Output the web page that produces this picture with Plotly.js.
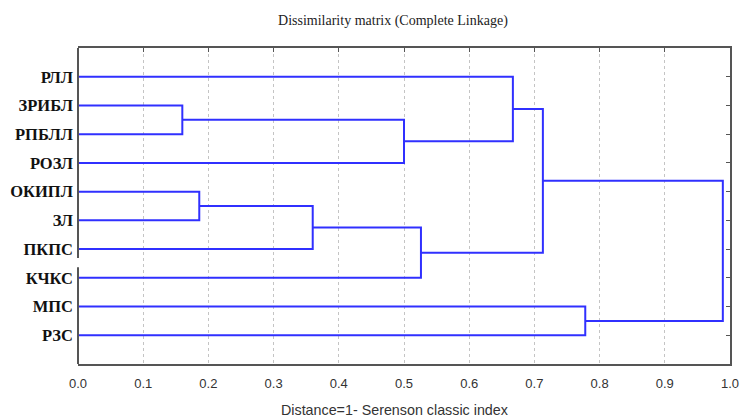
<!DOCTYPE html>
<html>
<head>
<meta charset="utf-8">
<script src="https://cdn.plot.ly/plotly-3.0.1.min.js"></script>
<style>html,body{margin:0;padding:0;background:#fff;}#chart{width:740px;height:419px;}</style>
</head>
<body>
<div id="chart"></div>
<script>
// Leaves (top to bottom)
const leafLabels = ['РЛЛ','ЗРИБЛ','РПБЛЛ','РОЗЛ','ОКИПЛ','ЗЛ','ПКПС','КЧКС','МПС','РЗС'];
// Merge steps: node ids 0..9 are leaves, each merge creates node 10, 11, ...
const mergeLeft   = [1, 4, 11, 10, 12, 0, 15, 8, 16];
const mergeRight  = [2, 5, 6, 3, 7, 13, 14, 9, 17];
const mergeHeight = [0.16, 0.186, 0.36, 0.50, 0.526, 0.667, 0.713, 0.778, 0.989];
const xTicks = [0, 0.1, 0.2, 0.3, 0.4, 0.5, 0.6, 0.7, 0.8, 0.9, 1.0];

// Build dendrogram segments
const nodeY = leafLabels.map((_, i) => i + 1);
const nodeX = leafLabels.map(() => 0);
const xs = [], ys = [];
for (let k = 0; k < mergeHeight.length; k++) {
  const a = mergeLeft[k], b = mergeRight[k], h = mergeHeight[k];
  xs.push(nodeX[a], h, h, nodeX[b], null);
  ys.push(nodeY[a], nodeY[a], nodeY[b], nodeY[b], null);
  nodeY.push((nodeY[a] + nodeY[b]) / 2);
  nodeX.push(h);
}

const lineColor = '#3030ff';
const frame = '#555555';

const traces = [
  {x: xs, y: ys, type: 'scatter', mode: 'lines', line: {color: lineColor, width: 2}, hoverinfo: 'skip', showlegend: false},
  {x: [null], y: [null], xaxis: 'x2', yaxis: 'y2', type: 'scatter', mode: 'lines', showlegend: false, hoverinfo: 'skip'}
];

const layout = {
  width: 740, height: 419,
  margin: {l: 78, r: 10, t: 48, b: 55},
  paper_bgcolor: '#fff', plot_bgcolor: '#fff',
  showlegend: false,
  title: {
    text: 'Dissimilarity matrix (Complete Linkage)',
    font: {family: 'Liberation Serif, Times New Roman, serif', size: 14, color: '#222'},
    xref: 'container', x: 0.531, xanchor: 'center',
    yref: 'container', y: 1 - 20/419, yanchor: 'middle'
  },
  xaxis: {
    range: [0, 1], tickvals: xTicks, ticktext: xTicks.map(v => v.toFixed(1)),
    showgrid: true, gridcolor: '#c4c4c4', griddash: '3px,3px', gridwidth: 1,
    zeroline: false, showline: true, linecolor: frame, linewidth: 2, mirror: true,
    ticks: '', ticklabelstandoff: 6,
    tickfont: {family: 'Liberation Sans, Arial, sans-serif', size: 13, color: '#333'}
  },
  xaxis2: {
    overlaying: 'x', side: 'top', range: [0, 1], tickvals: xTicks,
    ticks: 'inside', ticklen: 4, tickcolor: frame, tickwidth: 1,
    showticklabels: false, showgrid: false, zeroline: false, showline: false
  },
  yaxis: {
    range: [11, 0], tickvals: leafLabels.map((_, i) => i + 1), ticktext: leafLabels,
    showgrid: false, zeroline: false, showline: false, ticks: '', ticklabelstandoff: 4,
    tickfont: {family: 'Liberation Serif, Times New Roman, serif', size: 16.5, color: '#111', weight: 'bold'}
  },
  yaxis2: {
    overlaying: 'y', side: 'right', range: [11, 0], tickvals: leafLabels.map((_, i) => i + 1),
    ticks: 'inside', ticklen: 4, tickcolor: frame, tickwidth: 1,
    showticklabels: false, showgrid: false, zeroline: false, showline: true, linecolor: frame, linewidth: 2
  },
  shapes: [
    {type: 'line', xref: 'paper', yref: 'y', x0: 0, x1: 0, y0: 0, y1: 7.31, line: {color: frame, width: 2}, layer: 'above'},
    {type: 'line', xref: 'paper', yref: 'y', x0: 0, x1: 0, y0: 7.63, y1: 11, line: {color: frame, width: 2}, layer: 'above'}
  ],
  annotations: [
    {text: 'Distance=1- Serenson classic index', xref: 'paper', yref: 'paper',
     x: (394 - 78) / 652, y: -(410 - 364) / 316, xanchor: 'center', yanchor: 'middle', showarrow: false,
     font: {family: 'Liberation Sans, Arial, sans-serif', size: 14.3, color: '#333'}}
  ]
};

Plotly.newPlot('chart', traces, layout, {staticPlot: true, displayModeBar: false});
</script>
</body>
</html>
